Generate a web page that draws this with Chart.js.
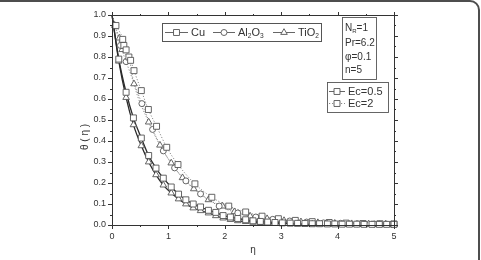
<!DOCTYPE html>
<html>
<head>
<meta charset="utf-8">
<script src="https://cdn.jsdelivr.net/npm/chart.js@4/dist/chart.umd.min.js"></script>
<style>
  html, body { margin: 0; padding: 0; background: #fff; }
  body { width: 481px; height: 260px; overflow: hidden; position: relative; }
  #grafico { position: absolute; left: 0; top: 0; }
  #marco { position: absolute; left: -11px; top: 0; width: 491px; height: 300px;
           border: 2px solid #4d4d4d; border-radius: 10px; box-sizing: border-box; }
</style>
</head>
<body>
<canvas id="grafico" width="481" height="260"></canvas>
<div id="marco"></div>
<script>
// ===============================
// Datos
// ===============================
const etaInicio = [0];
const thetaInicio = [1];

// Ec = 0.5 (linea continua)
const etaCuEc05 = [0.12, 0.25, 0.38, 0.52, 0.65, 0.78, 0.91, 1.05, 1.18, 1.31, 1.44, 1.57, 1.71, 1.84, 1.97, 2.10, 2.23, 2.37, 2.50, 2.63, 2.76, 2.89, 3.02, 3.16, 3.29, 3.42, 3.55, 3.68, 3.82, 3.95, 4.08, 4.21, 4.34, 4.47, 4.61, 4.74, 4.87, 5.00];
const thetaCuEc05 = [0.79, 0.632, 0.51, 0.414, 0.331, 0.271, 0.223, 0.181, 0.147, 0.12, 0.10, 0.086, 0.07, 0.06, 0.045, 0.038, 0.031, 0.025, 0.02, 0.017, 0.014, 0.012, 0.010, 0.009, 0.008, 0.007, 0.006, 0.006, 0.005, 0.005, 0.004, 0.004, 0.004, 0.003, 0.003, 0.003, 0.003, 0.003];
const etaTiEc05 = [0.12, 0.25, 0.38, 0.52, 0.65, 0.78, 0.91, 1.05, 1.18, 1.31, 1.44, 1.57, 1.71, 1.84, 1.97, 2.10, 2.23, 2.37, 2.50, 2.63, 2.76, 2.89, 3.02, 3.16, 3.29, 3.42, 3.55, 3.68, 3.82, 3.95, 4.08, 4.21, 4.34, 4.47, 4.61, 4.74, 4.87, 5.00];
const thetaTiEc05 = [0.78, 0.607, 0.477, 0.377, 0.30, 0.239, 0.19, 0.152, 0.124, 0.10, 0.081, 0.068, 0.057, 0.044, 0.033, 0.026, 0.02, 0.016, 0.013, 0.011, 0.009, 0.008, 0.007, 0.006, 0.005, 0.004, 0.004, 0.003, 0.003, 0.003, 0.002, 0.002, 0.002, 0.002, 0.002, 0.002, 0.002, 0.002];

// Ec = 2 (linea punteada)
const etaCuEc2 = [0.07, 0.19, 0.21, 0.25, 0.30, 0.33, 0.39, 0.52, 0.645, 0.79, 0.97, 1.17, 1.47, 1.77, 2.07, 2.37, 2.66, 2.95, 3.25, 3.55, 3.85, 4.15, 4.45, 4.75, 5.0];
const thetaCuEc2 = [0.95, 0.884, 0.855, 0.834, 0.80, 0.784, 0.735, 0.64, 0.55, 0.47, 0.37, 0.288, 0.196, 0.132, 0.09, 0.062, 0.042, 0.03, 0.022, 0.016, 0.012, 0.009, 0.007, 0.006, 0.005];
const etaAlEc2 = [0.15, 0.25, 0.53, 0.72, 0.91, 1.11, 1.31, 1.57, 1.90, 2.23, 2.55, 2.85, 3.15, 3.45, 3.75, 4.05, 4.35, 4.65, 4.95];
const thetaAlEc2 = [0.855, 0.778, 0.578, 0.455, 0.353, 0.272, 0.21, 0.148, 0.09, 0.057, 0.038, 0.027, 0.019, 0.014, 0.01, 0.008, 0.006, 0.005, 0.004];
const etaTiEc2 = [0.05, 0.13, 0.18, 0.31, 0.39, 0.65, 0.85, 1.05, 1.25, 1.45, 1.71, 1.96, 2.17, 2.45, 2.75, 3.05, 3.35, 3.65, 3.95, 4.25, 4.55, 4.85];
const thetaTiEc2 = [0.95, 0.89, 0.835, 0.785, 0.672, 0.49, 0.38, 0.295, 0.225, 0.172, 0.12, 0.09, 0.063, 0.042, 0.03, 0.021, 0.015, 0.011, 0.008, 0.006, 0.005, 0.004];

// Ticks
const ticksEta = [0, 1, 2, 3, 4, 5];
const ticksTheta = [0.0, 0.1, 0.2, 0.3, 0.4, 0.5, 0.6, 0.7, 0.8, 0.9, 1.0];

const FUENTE = '"Liberation Sans", Arial, sans-serif';
const COLOR_TEXTO = '#333';
const COLOR_MARCA = '#555';
const COLOR_CONTINUA = '#2a2a2a';
const COLOR_PUNTEADA = '#8c8c8c';

function puntos(xs, ys) {
  return xs.map(function (x, i) { return { x: x, y: ys[i] }; });
}

function linea(xs, ys, punteada) {
  return {
    data: puntos(etaInicio.concat(xs), thetaInicio.concat(ys)),
    showLine: true,
    borderColor: punteada ? COLOR_PUNTEADA : COLOR_CONTINUA,
    borderWidth: punteada ? 1 : 1.3,
    borderDash: punteada ? [1.2, 1.8] : [],
    pointRadius: 0,
    cubicInterpolationMode: 'monotone',
    order: 2,
    clip: 4
  };
}

function marcas(xs, ys, estilo) {
  const radio = estilo === 'rect' ? 4.2 : (estilo === 'triangle' ? 3.8 : 3);
  return {
    data: puntos(xs, ys),
    showLine: false,
    pointStyle: estilo,
    pointRadius: radio,
    pointBorderColor: COLOR_MARCA,
    pointBackgroundColor: '#fff',
    pointBorderWidth: 0.9,
    order: 1,
    clip: 6
  };
}

// ===============================
// Dibujo del texto con subindices
// ===============================
function textoConSub(ctx, partes, x, y, tam) {
  partes.forEach(function (p) {
    const t = p[1] ? tam * 0.6 : tam;
    ctx.font = t + 'px ' + FUENTE;
    ctx.fillText(p[0], x, p[1] ? y + tam * 0.3 : y);
    x += ctx.measureText(p[0]).width;
  });
}

function simbolo(ctx, estilo, x, y, radio) {
  ctx.fillStyle = '#fff';
  ctx.strokeStyle = COLOR_MARCA;
  ctx.lineWidth = 0.9;
  Chart.helpers.drawPoint(ctx, { pointStyle: estilo, radius: radio, borderWidth: 0.9, rotation: 0 }, x, y);
}

function segmento(ctx, x1, x2, y, punteada) {
  ctx.save();
  ctx.strokeStyle = punteada ? COLOR_PUNTEADA : '#666';
  ctx.lineWidth = 1;
  ctx.setLineDash(punteada ? [1.2, 1.8] : []);
  ctx.beginPath();
  ctx.moveTo(x1, y + 0.5);
  ctx.lineTo(x2, y + 0.5);
  ctx.stroke();
  ctx.restore();
}

// ===============================
// Plugin: marco, ticks menores, titulos y leyendas
// ===============================
const pluginFigura = {
  id: 'figura',
  afterDraw: function (chart) {
    const ctx = chart.ctx;
    const a = chart.chartArea;
    const ex = chart.scales.x;
    const ey = chart.scales.y;
    ctx.save();

    // Marco del grafico
    ctx.strokeStyle = '#333';
    ctx.lineWidth = 1;
    ctx.strokeRect(Math.round(a.left) + 0.5, Math.round(a.top) + 0.5,
      Math.round(a.right - a.left), Math.round(a.bottom - a.top));

    // Ticks en los cuatro lados
    ctx.beginPath();
    for (let i = 0; i <= 10; i++) {
      const px = Math.round(ex.getPixelForValue(i * 0.5)) + 0.5;
      const largo = i % 2 === 0 ? 4 : 2;
      ctx.moveTo(px, a.bottom); ctx.lineTo(px, a.bottom + largo);
      ctx.moveTo(px, a.top); ctx.lineTo(px, a.top - largo + 1);
    }
    for (let i = 0; i <= 20; i++) {
      const py = Math.round(ey.getPixelForValue(i * 0.05)) + 0.5;
      const largo = i % 2 === 0 ? 4 : 2;
      ctx.moveTo(a.left, py); ctx.lineTo(a.left - largo, py);
      ctx.moveTo(a.right, py); ctx.lineTo(a.right + largo, py);
    }
    ctx.stroke();

    // Titulos de los ejes
    ctx.fillStyle = COLOR_TEXTO;
    ctx.font = '10px ' + FUENTE;
    ctx.textAlign = 'center';
    ctx.textBaseline = 'middle';
    ctx.fillText('\u03B7', 253, 250);
    ctx.save();
    ctx.translate(85, 137);
    ctx.rotate(-Math.PI / 2);
    ctx.fillText('\u03B8 ( \u03B7 )', 0, 0);
    ctx.restore();

    ctx.textAlign = 'left';
    ctx.textBaseline = 'middle';

    // Leyenda de nanofluidos
    ctx.strokeStyle = '#555';
    ctx.strokeRect(162.5, 23.5, 159, 18);
    const yl = 32;
    segmento(ctx, 165, 188, yl, false); simbolo(ctx, 'rect', 176.5, yl + 0.5, 4.2);
    segmento(ctx, 213, 235, yl, false); simbolo(ctx, 'circle', 224, yl + 0.5, 3);
    segmento(ctx, 273, 295, yl, false); simbolo(ctx, 'triangle', 284, yl + 0.5, 3.8);
    ctx.fillStyle = COLOR_TEXTO;
    textoConSub(ctx, [['Cu', false]], 191, yl + 0.5, 11);
    textoConSub(ctx, [['Al', false], ['2', true], ['O', false], ['3', true]], 238, yl + 0.5, 11);
    textoConSub(ctx, [['TiO', false], ['2', true]], 298, yl + 0.5, 11);

    // Leyenda de parametros
    ctx.strokeStyle = '#555';
    ctx.strokeRect(342.5, 17.5, 34, 62);
    ctx.fillStyle = COLOR_TEXTO;
    textoConSub(ctx, [['N', false], ['R', true], ['=1', false]], 345, 28, 10);
    textoConSub(ctx, [['Pr=6.2', false]], 345, 43, 10);
    textoConSub(ctx, [['\u03C6=0.1', false]], 345, 57, 10);
    textoConSub(ctx, [['n=5', false]], 345, 70, 10);

    // Leyenda de Ec
    ctx.strokeStyle = '#555';
    ctx.strokeRect(327.5, 82.5, 61, 30);
    segmento(ctx, 329, 345, 91, false); simbolo(ctx, 'rect', 337, 91.5, 4.2);
    segmento(ctx, 329, 345, 103, true); simbolo(ctx, 'rect', 337, 103.5, 4.2);
    ctx.fillStyle = COLOR_TEXTO;
    textoConSub(ctx, [['Ec=0.5', false]], 348, 91.5, 11);
    textoConSub(ctx, [['Ec=2', false]], 348, 103.5, 11);

    ctx.restore();
  }
};

// ===============================
// Configurar grafico
// ===============================
document.addEventListener('DOMContentLoaded', function () {
  const ctx = document.getElementById('grafico').getContext('2d');
  new Chart(ctx, {
    type: 'scatter',
    data: {
      datasets: [
        marcas(etaCuEc05, thetaCuEc05, 'rect'),
        marcas(etaTiEc05, thetaTiEc05, 'triangle'),
        marcas(etaCuEc2, thetaCuEc2, 'rect'),
        marcas(etaAlEc2, thetaAlEc2, 'circle'),
        marcas(etaTiEc2, thetaTiEc2, 'triangle'),
        linea(etaCuEc05, thetaCuEc05, false),
        linea(etaTiEc05, thetaTiEc05, false),
        linea(etaCuEc2, thetaCuEc2, true),
        linea(etaAlEc2, thetaAlEc2, true),
        linea(etaTiEc2, thetaTiEc2, true)
      ]
    },
    options: {
      responsive: false,
      animation: false,
      layout: { padding: { top: 15, right: 87, left: 0, bottom: 0 } },
      plugins: { legend: { display: false }, tooltip: { enabled: false } },
      scales: {
        x: {
          type: 'linear',
          min: 0,
          max: 5,
          afterBuildTicks: function (s) { s.ticks = ticksEta.map(function (v) { return { value: v }; }); },
          afterFit: function (s) { s.height = 35; },
          ticks: { color: COLOR_TEXTO, font: { size: 9, family: FUENTE }, padding: 2, maxRotation: 0 },
          grid: { display: false, drawTicks: true, tickLength: 4 },
          border: { display: false }
        },
        y: {
          type: 'linear',
          min: 0,
          max: 1,
          afterBuildTicks: function (s) { s.ticks = ticksTheta.map(function (v) { return { value: v }; }); },
          afterFit: function (s) { s.width = 112; },
          ticks: {
            color: COLOR_TEXTO, font: { size: 9, family: FUENTE }, padding: 2,
            callback: function (v) { return Number(v).toFixed(1); }
          },
          grid: { display: false, drawTicks: true, tickLength: 4 },
          border: { display: false }
        }
      }
    },
    plugins: [pluginFigura]
  });
});
</script>
</body>
</html>
